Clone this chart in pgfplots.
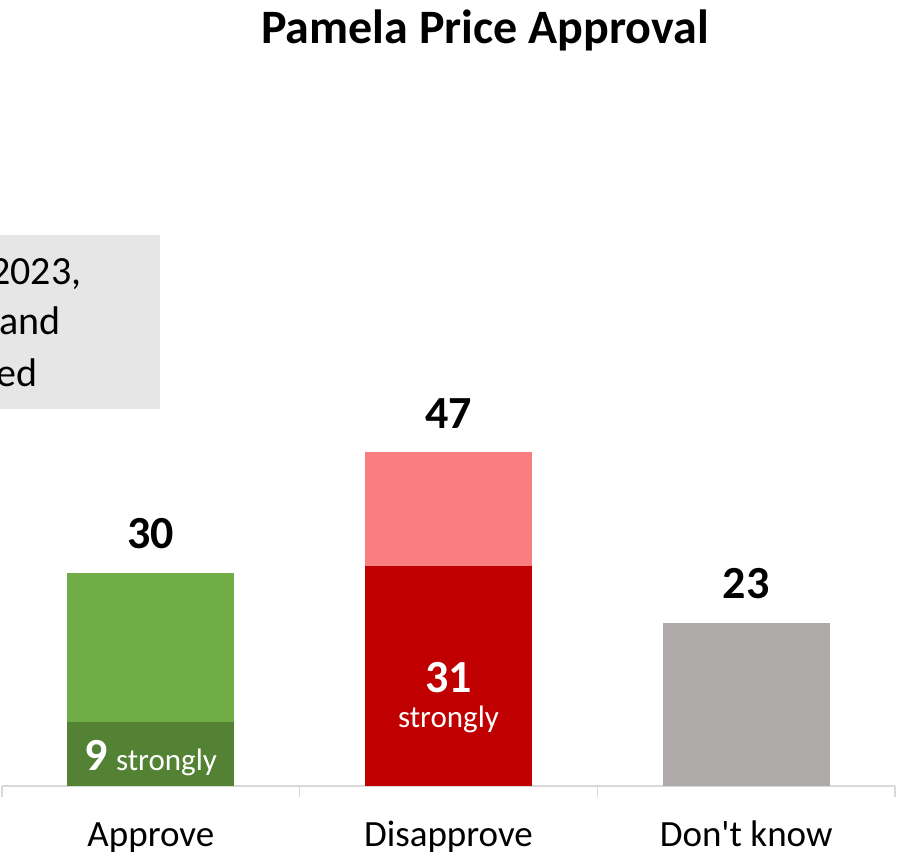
\documentclass[border=0pt]{standalone}
\usepackage{pgfplots}
\pgfplotsset{compat=1.18}
\usepackage{fontspec}
\setmainfont{Carlito}
\definecolor{lgreen}{HTML}{70AD47}
\definecolor{dgreen}{HTML}{548235}
\definecolor{lred}{HTML}{F87E7F}
\definecolor{dred}{HTML}{C00000}
\definecolor{bgray}{HTML}{AEAAAA}
\definecolor{boxgray}{HTML}{E6E6E6}
\definecolor{axgray}{HTML}{D9D9D9}
\begin{document}
\begin{tikzpicture}
\begin{axis}[
  at={(0,0)}, anchor=south west,
  scale only axis, width=893pt, height=710pt,
  xmin=-0.5, xmax=2.5, ymin=0, ymax=100,
  axis x line=bottom, axis y line=none, ytick=\empty,
  x axis line style={-, draw=axgray, line width=1.5pt},
  xtick={0,1,2}, xticklabels={Approve,Disapprove,Don\textquotesingle t know},
  major x tick style={draw=none},
  minor xtick={-0.5,0.5,1.5,2.5},
  minor x tick style={draw=axgray, line width=1.5pt},
  minor tick length=11pt, major tick length=0pt,
  xtick align=outside,
  xticklabel style={font=\fontsize{37}{44}\selectfont, anchor=base, yshift=-61pt},
  ybar, bar width=167pt,
  clip=false,
]
\addplot[fill=lgreen, draw=none, bar shift=0pt] coordinates {(0,30)};
\addplot[fill=dgreen, draw=none, bar shift=0pt] coordinates {(0,9)};
\addplot[fill=lred, draw=none, bar shift=0pt] coordinates {(1,47)};
\addplot[fill=dred, draw=none, bar shift=0pt] coordinates {(1,31)};
\addplot[fill=bgray, draw=none, bar shift=0pt] coordinates {(2,23)};
\node[anchor=base, yshift=24pt, font=\bfseries\fontsize{46}{55}\selectfont] at (axis cs:0,30) {30};
\node[anchor=base, yshift=24pt, font=\bfseries\fontsize{46}{55}\selectfont] at (axis cs:1,47) {47};
\node[anchor=base, yshift=24pt, font=\bfseries\fontsize{46}{55}\selectfont] at (axis cs:2,23) {23};
\node[anchor=base, yshift=15pt, text=white, inner sep=0pt] at (axis cs:0,0) {{\bfseries\fontsize{46}{55}\selectfont 9}\hspace{8pt}{\fontsize{31}{37}\selectfont strongly}};
\node[anchor=base, yshift=93pt, text=white, font=\bfseries\fontsize{46}{55}\selectfont] at (axis cs:1,0) {31};
\node[anchor=base, yshift=58pt, text=white, font=\fontsize{31}{37}\selectfont] at (axis cs:1,0) {strongly};
\coordinate (O) at (rel axis cs:0,0);
\end{axis}
\fill[boxgray] ([shift={(-150pt,377pt)}]O) rectangle ([shift={(158pt,551pt)}]O);
\node[anchor=base west, inner sep=0pt, font=\fontsize{40}{48}\selectfont] at ([shift={(-12pt,501pt)}]O) {2023,};
\node[anchor=base west, inner sep=0pt, font=\fontsize{40}{48}\selectfont] at ([shift={(-3pt,451pt)}]O) {and};
\node[anchor=base west, inner sep=0pt, font=\fontsize{40}{48}\selectfont] at ([shift={(-6pt,399pt)}]O) {ed};
\node[anchor=base, inner sep=0pt, font=\bfseries\fontsize{48}{58}\selectfont] at ([shift={(483pt,742pt)}]O) {Pamela Price Approval};
\pgfresetboundingbox
\path[use as bounding box] ([shift={(-2pt,-75pt)}]O) rectangle ([shift={(895pt,786pt)}]O);
\end{tikzpicture}
\end{document}
